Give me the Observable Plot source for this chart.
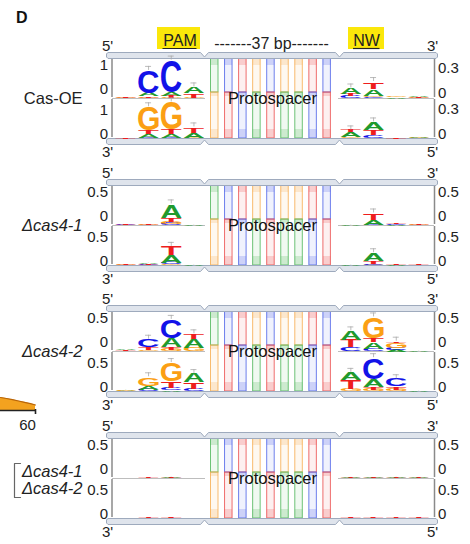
<!DOCTYPE html>
<html><head><meta charset="utf-8">
<script src="https://cdn.jsdelivr.net/npm/d3@7"></script>
<script src="https://cdn.jsdelivr.net/npm/@observablehq/plot@0.6"></script>
<style>body{margin:0;background:#fff}</style>
</head><body><div id="chart"></div>
<script>
// ---------------- data ----------------
// stacks: letter heights (axis units), listed bottom -> top
const panelLabels = ["Cas-OE", "Δcas4-1", "Δcas4-2"];
const bracketLabels = ["Δcas4-1", "Δcas4-2"];
const tickValuesCasOELeft = [0, 1];
const tickValuesCasOERight = [0, 0.3];
const tickValuesCas4 = [0, 0.5];
const protoTopBases = ["A","C","T","G","C","G","G","T","C"];
const protoBottomBases = ["G","T","C","A","T","A","A","C","T"];

const casOE_PAM_top = [
  [["G",0.04],["T",0.04]],
  [["G",0.04],["T",0.06],["A",0.13],["C",0.92]],
  [["G",0.04],["T",0.08],["A",0.13],["C",1.33]],
  [["G",0.04],["T",0.17],["A",0.25]]
];
const casOE_PAM_bottom = [
  [["T",0.04]],
  [["C",0.04],["A",0.13],["T",0.17],["G",0.96]],
  [["C",0.04],["A",0.13],["T",0.21],["G",1.12]],
  [["G",0.04],["A",0.21],["T",0.21]]
];
const casOE_NW_top = [
  [["C",0.024],["T",0.024],["A",0.071]],
  [["C",0.012],["G",0.018],["A",0.083],["T",0.083]],
  [["A",0.012],["G",0.012]],
  [["G",0.006],["T",0.012],["A",0.006]]
];
const casOE_NW_bottom = [
  [["G",0.012],["A",0.06],["T",0.024]],
  [["C",0.036],["T",0.06],["A",0.095]],
  [["T",0.012]],
  [["G",0.006],["A",0.018]]
];

const cas4a_PAM_top = [
  [["C",0.02],["T",0.02]],
  [["G",0.02],["T",0.02]],
  [["C",0.04],["G",0.04],["T",0.08],["A",0.27]],
  [["A",0.01]]
];
const cas4a_PAM_bottom = [
  [["G",0.02],["T",0.01]],
  [["C",0.02],["T",0.02],["A",0.01]],
  [["G",0.02],["C",0.04],["A",0.15],["T",0.17]],
  [["A",0.01]]
];
const cas4a_NW_top = [
  [["A",0.01]],
  [["C",0.02],["A",0.10],["T",0.125]],
  [["A",0.01],["C",0.02],["T",0.01]],
  [["G",0.02],["T",0.01]]
];
const cas4a_NW_bottom = [
  [["A",0.01]],
  [["G",0.02],["C",0.02],["T",0.06],["A",0.15]],
  [["A",0.01],["C",0.01],["T",0.02]],
  [["G",0.01],["T",0.02]]
];

const cas4b_PAM_top = [
  [["G",0.01],["T",0.02],["A",0.02]],
  [["G",0.03],["T",0.06],["C",0.15]],
  [["G",0.04],["T",0.06],["A",0.17],["C",0.375]],
  [["G",0.08],["A",0.17],["T",0.10]]
];
const cas4b_PAM_bottom = [
  [["C",0.01],["A",0.01],["G",0.02]],
  [["C",0.04],["A",0.08],["G",0.17]],
  [["A",0.02],["C",0.06],["T",0.125],["G",0.375]],
  [["C",0.06],["T",0.125],["A",0.17]]
];
const cas4b_NW_top = [
  [["C",0.09],["T",0.15],["A",0.17]],
  [["C",0.06],["A",0.125],["T",0.08],["G",0.43]],
  [["A",0.04],["C",0.04],["G",0.10],["T",0.02]],
  [["A",0.01]]
];
const cas4b_NW_bottom = [
  [["G",0.06],["T",0.17],["A",0.15]],
  [["G",0.04],["T",0.06],["A",0.15],["C",0.43]],
  [["G",0.04],["T",0.06],["C",0.15]],
  [["A",0.01]]
];

const both_PAM_top = [
  [["A",0.005]],
  [["G",0.008],["T",0.012],["A",0.008]],
  [["G",0.006],["T",0.014],["A",0.01]],
  [["A",0.005]]
];
const both_PAM_bottom = [
  [["A",0.005],["G",0.005]],
  [["A",0.008],["T",0.01],["G",0.008]],
  [["A",0.008],["T",0.015],["G",0.006]],
  [["A",0.005]]
];
const both_NW_top = [
  [["C",0.008],["T",0.012],["A",0.016]],
  [["C",0.006],["T",0.014],["A",0.015]],
  [["C",0.008],["T",0.01],["A",0.014]],
  [["C",0.006],["T",0.012],["A",0.016]]
];
const both_NW_bottom = [
  [["C",0.006],["G",0.006],["T",0.014]],
  [["C",0.006],["G",0.008],["T",0.016]],
  [["C",0.006],["G",0.006],["T",0.012]],
  [["C",0.008],["G",0.006],["T",0.014]]
];

// neighbouring panel fragment (tail of an orange area, axis end "60")
const fragX = [0, 6, 12, 18, 24, 30, 35];
const fragTop = [397, 398, 399.2, 400.5, 401.8, 403.2, 404.5];

// ---------------- layout ----------------
const W = 470, H = 544;
const panelTop = [52, 179, 305, 432];
const BAR = 6, ROW = 40;
const pamStart = 114, nwStart = 339, slot = 22.7, letterW = 20.5;
const pxPerUnit = [[24, 84], [49, 49], [49, 49], [49, 49]];
const stripeStart = 210.5, stripeStep = 14.05, stripeW = 7.5;
const colors = {A:"#1f9a2e", C:"#1212e8", G:"#fb9f14", T:"#ee1d1d"};
const stripeColors = {A:"#3fb04c", C:"#3f55e6", G:"#f5a540", T:"#ea3f3f"};
const FONT = "Liberation Sans, Arial, sans-serif";

const logos = [
  [casOE_PAM_top, casOE_PAM_bottom, casOE_NW_top, casOE_NW_bottom],
  [cas4a_PAM_top, cas4a_PAM_bottom, cas4a_NW_top, cas4a_NW_bottom],
  [cas4b_PAM_top, cas4b_PAM_bottom, cas4b_NW_top, cas4b_NW_bottom],
  [both_PAM_top, both_PAM_bottom, both_NW_top, both_NW_bottom]
];

const letterData = [], errBars = [];
logos.forEach((set, p) => {
  set.forEach((stacks, j) => {
    const side = j < 2 ? 0 : 1, row = j % 2;
    const base = panelTop[p] + BAR + ROW * (row + 1);
    const x0 = side === 0 ? pamStart : nwStart;
    const k = pxPerUnit[p][side];
    stacks.forEach((stack, i) => {
      const cx = x0 + slot * (i + 0.5);
      let cum = 0;
      for (const [L, v] of stack) {
        const h = v * k;
        letterData.push({letter: L, cx, y: base - cum, h, w: letterW, color: colors[L]});
        cum += h;
      }
      if (cum > 3) errBars.push({x: cx, y1: base - cum - 0.5, y2: base - cum - 4.5});
    });
  });
});

const stripeData = [], stripeCaps = [];
protoTopBases.forEach((b, i) => {
  const x1 = stripeStart + i * stripeStep, x2 = x1 + stripeW;
  panelTop.forEach(t => {
    const yTop = t + BAR, ySplit = t + 40, yBot = t + BAR + 2 * ROW;
    const cb = stripeColors[protoBottomBases[i]], ct = stripeColors[b];
    stripeData.push({x1, x2, y1: yTop, y2: ySplit, c: ct});
    stripeData.push({x1, x2, y1: ySplit, y2: yBot, c: cb});
    stripeCaps.push({x1, x2, y1: yTop, y2: yTop + 7, c: ct});
    stripeCaps.push({x1, x2, y1: yBot - 9, y2: yBot, c: cb});
    stripeCaps.push({x1, x2, y1: ySplit, y2: ySplit + 4, c: cb});
  });
});

function topBar(t, id) {
  return [[106,t+1.5],[107.5,t],[200,t],[204,t+4.5],[208,t],[335,t],[339,t+4.5],[343,t],[435.5,t],[437,t+1.5],
          [437,t+4.5],[435.5,t+6],[107.5,t+6],[106,t+4.5],[106,t+1.5]].map(([x,y]) => ({x, y, id}));
}
function bottomBar(t, id) {
  return [[106,t+1.5],[107.5,t],[435.5,t],[437,t+1.5],[437,t+4.5],[435.5,t+6],[343,t+6],[339,t+1.5],[335,t+6],
          [208,t+6],[204,t+1.5],[200,t+6],[107.5,t+6],[106,t+4.5],[106,t+1.5]].map(([x,y]) => ({x, y, id}));
}
const barPts = panelTop.flatMap((t, p) => [...topBar(t, "t" + p), ...bottomBar(t + BAR + 2 * ROW, "b" + p)]);

const axisSegs = panelTop.flatMap(t => [0, 1].flatMap(row => {
  const y1 = t + BAR + ROW * row + 1, y2 = t + BAR + ROW * (row + 1) - 1;
  return [{x: 111.5, y1, y2}, {x: 434, y1, y2}];
}));
const dividers = panelTop.flatMap(t => [{x1: 112, x2: 205, y: t + BAR + ROW}, {x1: 338, x2: 434, y: t + BAR + ROW}]);

const tickLabels = [];
panelTop.forEach((t, p) => {
  [0, 1].forEach(row => {
    const base = t + BAR + ROW * (row + 1);
    [0, 1].forEach(side => {
      const ticks = p === 0 ? (side === 0 ? tickValuesCasOELeft : tickValuesCasOERight) : tickValuesCas4;
      const k = pxPerUnit[p][side];
      const off = row === 0 ? ((p === 0 && side === 1) ? 5 : 9) : 4;
      ticks.forEach(v => tickLabels.push({side, x: side === 0 ? 107.5 : 437.5, y: base - off - v * k, text: String(v)}));
    });
  });
});

const endLabels = panelTop.flatMap(t => [
  {x: 107, y: t - 6, text: "5'"}, {x: 432, y: t - 6, text: "3'"},
  {x: 107, y: t + 100, text: "3'"}, {x: 432, y: t + 100, text: "5'"}
]);
const protoLabels = panelTop.map(t => ({x: 272, y: t + 46, text: "Protospacer"}));
const nameLabels = panelLabels.map((s, i) => ({x: 82, y: panelTop[i] + 46.5, text: s}));
const bracketText = bracketLabels.map((s, i) => ({x: 82, y: 471 + 17 * i, text: s}));
const bracketPts = [[20,463],[14,463],[14,497],[20,497]].map(([x, y]) => ({x, y}));
const frag = fragX.map((x, i) => ({x, top: fragTop[i]}));

const svg = Plot.plot({
  width: W, height: H, margin: 0,
  x: {domain: [0, W], range: [0, W], axis: null},
  y: {domain: [0, H], range: [0, H], axis: null},
  color: {type: "identity"},
  style: {fontFamily: FONT, background: "white", color: "#222"},
  marks: [
    // neighbour fragment
    Plot.areaY(frag, {x: "x", y1: 410, y2: "top", fill: "#f3a21f"}),
    Plot.line(frag, {x: "x", y: "top", stroke: "#b8650a", strokeWidth: 1.2}),
    Plot.ruleY([410], {x1: 0, x2: 36, stroke: "#222", strokeWidth: 1.6}),
    Plot.ruleX([35], {y1: 409, y2: 414, stroke: "#222", strokeWidth: 1.6}),
    Plot.text(["60"], {x: 27, y: 425, text: d => d, fontSize: 15, fill: "#222"}),
    // protospacer stripes
    Plot.rect(stripeData, {x1: "x1", x2: "x2", y1: "y1", y2: "y2", fill: "c", fillOpacity: 0.08, stroke: "c", strokeOpacity: 0.75, strokeWidth: 1}),
    Plot.rect(stripeCaps, {x1: "x1", x2: "x2", y1: "y1", y2: "y2", fill: "c", fillOpacity: 0.2}),
    // strand bars
    Plot.line(barPts, {x: "x", y: "y", z: "id", fill: "#dfe4ec", stroke: "#9eaabd", strokeWidth: 1}),
    // axes & baselines
    Plot.ruleY(dividers, {x1: "x1", x2: "x2", y: "y", stroke: "#bdbdbd", strokeWidth: 1}),
    Plot.ruleX(axisSegs, {x: "x", y1: "y1", y2: "y2", stroke: "#8a8a8a", strokeWidth: 1.5}),
    // logo letters
    Plot.text(letterData, {x: "cx", y: "y", text: "letter", fill: "color", fontSize: 100, fontWeight: "bold",
      fontFamily: "Liberation Sans", textAnchor: "middle", lineAnchor: "bottom", ariaLabel: "logo"}),
    Plot.ruleX(errBars, {x: "x", y1: "y1", y2: "y2", stroke: "#aaa", strokeWidth: 0.8}),
    Plot.ruleY(errBars, {y: "y2", x1: d => d.x - 3, x2: d => d.x + 3, stroke: "#aaa", strokeWidth: 0.8}),
    // tick labels
    Plot.text(tickLabels.filter(d => d.side === 0), {x: "x", y: "y", text: "text", textAnchor: "end", fontSize: 15, fill: "#222"}),
    Plot.text(tickLabels.filter(d => d.side === 1), {x: "x", y: "y", text: "text", textAnchor: "start", fontSize: 15, fill: "#222"}),
    Plot.text(endLabels, {x: "x", y: "y", text: "text", fontSize: 15, fill: "#222"}),
    Plot.text(protoLabels, {x: "x", y: "y", text: "text", fontSize: 16.5, fill: "#111"}),
    // row names
    Plot.text(nameLabels.slice(0, 1), {x: "x", y: "y", text: "text", textAnchor: "end", fontSize: 16.5, fill: "#222"}),
    Plot.text(nameLabels.slice(1), {x: "x", y: "y", text: "text", textAnchor: "end", fontSize: 16.5, fontStyle: "italic", fill: "#222"}),
    Plot.text(bracketText, {x: "x", y: "y", text: "text", textAnchor: "end", fontSize: 16.5, fontStyle: "italic", fill: "#222"}),
    Plot.line(bracketPts, {x: "x", y: "y", stroke: "#666", strokeWidth: 1.2}),
    // header annotations
    Plot.rect([{x1: 157, x2: 200, y1: 27, y2: 49}, {x1: 348, x2: 384, y1: 27, y2: 49}], {x1: "x1", x2: "x2", y1: "y1", y2: "y2", fill: "#fbe70a"}),
    Plot.text([{x: 179.5, y: 40.5, t: "PAM"}, {x: 366, y: 40.5, t: "NW"}], {x: "x", y: "y", text: "t", fontSize: 16, fill: "#222"}),
    Plot.ruleY([{x1: 162.5, x2: 196.5, y: 48}, {x1: 353, x2: 379.5, y: 48}], {x1: "x1", x2: "x2", y: "y", stroke: "#222", strokeWidth: 1.2}),
    Plot.text(["-------37 bp-------"], {x: 271, y: 43, text: d => d, fontSize: 16, fill: "#222"}),
    Plot.text(["D"], {x: 15.5, y: 17, text: d => d, textAnchor: "start", fontSize: 16, fontWeight: "bold", fill: "#111"})
  ]
});
document.getElementById("chart").append(svg);

// stretch each logo glyph to its stack cell (fixed width, value-scaled height)
const ctx = document.createElement("canvas").getContext("2d");
const F = 100;
ctx.font = `bold ${F}px "Liberation Sans"`;
ctx.textAlign = "center";
const metrics = {};
for (const L of "ACGT") {
  const m = ctx.measureText(L);
  metrics[L] = {l: m.actualBoundingBoxLeft, r: m.actualBoundingBoxRight, a: m.actualBoundingBoxAscent, d: m.actualBoundingBoxDescent};
}
let g = svg.querySelector('g[aria-label="logo"]');
if (!g) g = [...svg.querySelectorAll("g")].find(e => e.getAttribute("font-size") === "100");
if (g) {
  g.querySelectorAll("text").forEach((el, i) => {
    const d = letterData[i]; if (!d) return;
    let X, Y;
    const tr = el.getAttribute("transform");
    const mm = tr && tr.match(/translate\(\s*([-\d.e]+)[,\s]+([-\d.e]+)\s*\)/);
    if (mm) { X = +mm[1]; Y = +mm[2]; } else { X = +el.getAttribute("x") || 0; Y = +el.getAttribute("y") || 0; }
    el.removeAttribute("x"); el.removeAttribute("y");
    const m = metrics[d.letter];
    const sx = d.w / (m.l + m.r), sy = d.h / (m.a + m.d);
    const tx = X - sx * (m.r - m.l) / 2, ty = Y - sy * m.d;
    el.setAttribute("transform", `translate(${tx},${ty}) scale(${sx},${sy})`);
  });
}
</script>
</body></html>
